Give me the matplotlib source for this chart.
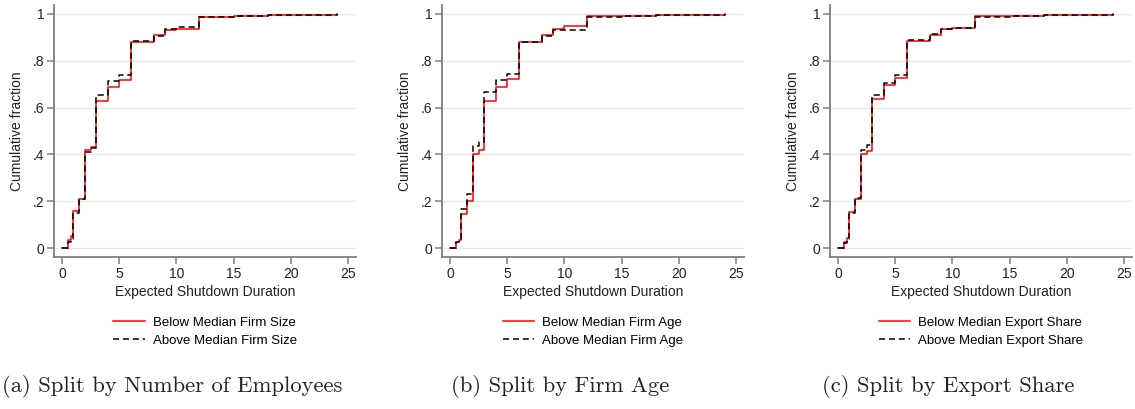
import matplotlib.pyplot as plt

# expected shutdown duration values where the empirical CDFs step
durations = [0, 0.5, 0.75, 1, 1.5, 2, 2.5, 3, 4, 5, 6, 8, 9, 10, 12, 15, 18, 24]

size_below = [0, 0.033, 0.05, 0.16, 0.21, 0.417, 0.432, 0.63, 0.688, 0.718, 0.882, 0.908, 0.93, 0.937, 0.988, 0.991, 0.996, 1.0]
size_above = [0, 0.025, 0.04, 0.15, 0.21, 0.41, 0.428, 0.654, 0.712, 0.74, 0.886, 0.906, 0.934, 0.942, 0.985, 0.99, 0.997, 1.0]

age_below = [0, 0.024, 0.036, 0.145, 0.2, 0.4, 0.417, 0.629, 0.687, 0.72, 0.882, 0.908, 0.937, 0.949, 0.989, 0.991, 0.996, 1.0]
age_above = [0, 0.024, 0.04, 0.166, 0.232, 0.437, 0.452, 0.666, 0.718, 0.744, 0.882, 0.905, 0.93, 0.933, 0.986, 0.99, 0.996, 1.0]

export_below = [0, 0.024, 0.043, 0.156, 0.21, 0.403, 0.415, 0.636, 0.697, 0.725, 0.886, 0.912, 0.935, 0.94, 0.989, 0.991, 0.996, 1.0]
export_above = [0, 0.022, 0.04, 0.152, 0.212, 0.42, 0.44, 0.654, 0.707, 0.74, 0.889, 0.913, 0.935, 0.94, 0.987, 0.99, 0.997, 1.0]

panels = [
    (size_below, size_above, "Firm Size", "(a) Split by Number of Employees"),
    (age_below, age_above, "Firm Age", "(b) Split by Firm Age"),
    (export_below, export_above, "Export Share", "(c) Split by Export Share"),
]

plt.rcParams['font.family'] = ['Liberation Sans', 'DejaVu Sans']

W, H = 1135, 409
fig = plt.figure(figsize=(W / 100, H / 100), dpi=100)

ax_left = [54, 442, 830]   # left spine, pixels
ax_w = 302
ax_top, ax_bottom = 5, 257
spine_col = "#7f7f7f"

for i, (below, above, name, caption) in enumerate(panels):
    x0 = ax_left[i]
    ax = fig.add_axes([x0 / W, 1 - ax_bottom / H, ax_w / W, (ax_bottom - ax_top) / H])
    ax.plot(durations, below, drawstyle="steps-post", color="red", lw=1.1,
            label="Below Median " + name)
    ax.plot(durations, above, drawstyle="steps-post", color="black", lw=1.1,
            ls=(0, (4, 2.5)), label="Above Median " + name)

    ax.set_xlim(-0.7, 25.7)
    ax.set_ylim(-0.038, 1.038)
    ax.set_xticks([0, 5, 10, 15, 20, 25])
    ax.set_yticks([0, 0.2, 0.4, 0.6, 0.8, 1])
    ax.set_yticklabels(["0", ".2", ".4", ".6", ".8", "1"])
    ax.grid(axis="y", color="#e6e6e6", lw=0.9)
    ax.set_axisbelow(True)
    for s in ["top", "right"]:
        ax.spines[s].set_visible(False)
    for s in ["left", "bottom"]:
        ax.spines[s].set_color(spine_col)
        ax.spines[s].set_linewidth(1.3)
    ax.tick_params(colors=spine_col, labelcolor="#222222", labelsize=10,
                   length=5, width=1.1, pad=2)
    ax.set_xlabel("Expected Shutdown Duration", fontsize=10, color="#222222", labelpad=3)
    ax.set_ylabel("Cumulative fraction", fontsize=10, color="#222222", labelpad=6)

    ax.legend(loc="upper center", bbox_to_anchor=(0.5, -0.20), frameon=False,
              fontsize=9.5, handlelength=2.4, handletextpad=0.6, labelspacing=0.45,
              borderpad=0.2)

    cx = (x0 - 33 + ax_w / 2) / W
    fig.text(cx, 1 - 386 / H, caption, family="cmr10", fontsize=16.3,
             ha="center", va="center", color="#222222")

fig.savefig("out.png", dpi=100)
